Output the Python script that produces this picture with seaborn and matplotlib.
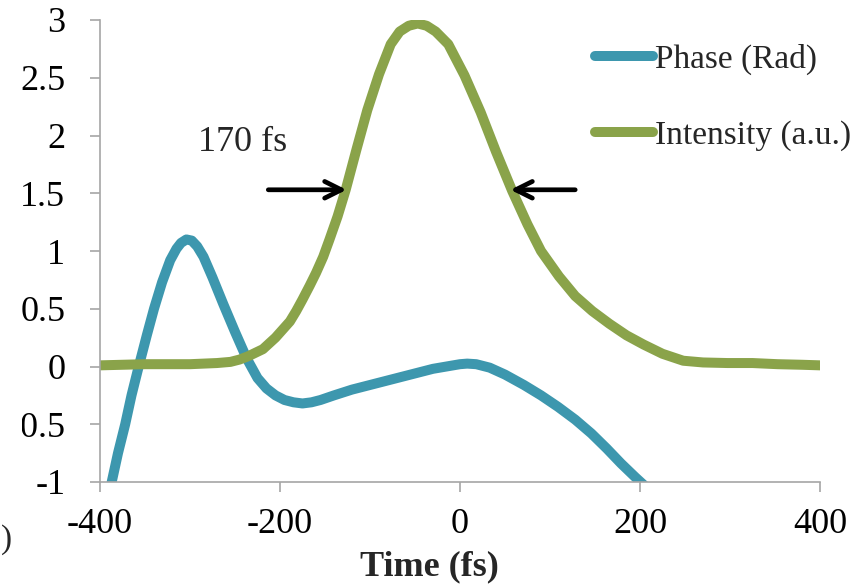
import numpy as np
import pandas as pd
import matplotlib
matplotlib.use("Agg")
import matplotlib.pyplot as plt
import seaborn as sns
from matplotlib.transforms import Bbox, TransformedBbox
from matplotlib.lines import Line2D

# ---- data ----
phase_t = [-390, -387, -380, -372, -365, -357, -348, -340, -331, -322, -315, -310, -304,
           -298, -292, -285, -275, -263, -250, -237, -225, -215, -205, -195, -185, -175,
           -165, -155, -140, -120, -100, -80, -60, -45, -30, -15, 0, 8, 18, 33, 50,
           71, 90, 109, 128, 146, 163, 179, 195, 209, 215]
phase_v = [-1.1, -1.0, -0.75, -0.5, -0.25, 0.0, 0.27, 0.5, 0.73, 0.92, 1.02, 1.07, 1.10,
           1.09, 1.04, 0.95, 0.77, 0.54, 0.30, 0.07, -0.10, -0.19, -0.25, -0.29, -0.31,
           -0.32, -0.31, -0.29, -0.25, -0.20, -0.16, -0.12, -0.08, -0.05, -0.02, 0.0,
           0.02, 0.025, 0.02, -0.01, -0.07, -0.16, -0.25, -0.35, -0.46, -0.58, -0.71,
           -0.84, -0.96, -1.06, -1.1]

int_t = [-400, -350, -300, -270, -255, -245, -235, -227, -219, -212, -205, -197, -189,
         -182, -175, -167, -160, -152, -145, -136, -127, -115, -103, -90, -77, -67, -57,
         -47, -37, -27, -13, 5, 23, 40, 58, 75, 90, 110, 128, 147, 166, 185, 204, 225,
         248, 270, 297, 325, 353, 380, 400]
int_v = [0.01, 0.02, 0.02, 0.03, 0.04, 0.06, 0.09, 0.12, 0.15, 0.20, 0.25, 0.32, 0.39,
         0.48, 0.58, 0.70, 0.81, 0.95, 1.10, 1.30, 1.53, 1.88, 2.22, 2.53, 2.79, 2.90,
         2.95, 2.97, 2.95, 2.90, 2.79, 2.52, 2.20, 1.86, 1.52, 1.23, 1.00, 0.78, 0.61,
         0.48, 0.37, 0.27, 0.19, 0.11, 0.05, 0.035, 0.03, 0.03, 0.02, 0.015, 0.01]

series_names = ["Phase (Rad)", "Intensity (a.u.)"]
series_colors = ["#3D97AE", "#8AA34A"]
x_ticks = [-400, -200, 0, 200, 400]
y_ticks = [-1, -0.5, 0, 0.5, 1, 1.5, 2, 2.5, 3]
y_tick_labels = ["-1", "-0.5", "0", "0.5", "1", "1.5", "2", "2.5", "3"]
fwhm_label = "170 fs"
x_label = "Time (fs)"

df = pd.concat([
    pd.DataFrame({"t": phase_t, "v": phase_v, "series": series_names[0]}),
    pd.DataFrame({"t": int_t, "v": int_v, "series": series_names[1]}),
], ignore_index=True)

sns.set_theme(style="white")
plt.rcParams["font.family"] = ["Liberation Serif", "DejaVu Serif"]

W, H = 867, 586
fig = plt.figure(figsize=(W / 100, H / 100), dpi=100)
ax = fig.add_axes([100 / W, 1 - 482 / H, 720 / W, 462 / H])

sns.lineplot(data=df, x="t", y="v", hue="series", palette=series_colors,
             hue_order=series_names, sort=False, estimator=None, lw=7.2,
             legend=False, ax=ax)
for ln in ax.get_lines():
    ln.set_solid_joinstyle("round")

ax.set_xlim(-400, 400)
ax.set_ylim(-1, 3)
ax.set_xticks(x_ticks)
ax.set_xticklabels([str(v) for v in x_ticks])
ax.set_yticks(y_ticks)
ax.set_yticklabels(y_tick_labels)

for s in ["top", "right"]:
    ax.spines[s].set_visible(False)
for s in ["left", "bottom"]:
    ax.spines[s].set_color("#A6A6A6")
    ax.spines[s].set_linewidth(1.2)

ax.tick_params(axis="both", direction="out", length=7, width=1.2, color="#A6A6A6",
               labelsize=26, labelcolor="black")
ax.tick_params(axis="y", pad=18, left=True)
ax.tick_params(axis="x", pad=12, bottom=True)

ax.set_xlabel(x_label, fontsize=26, fontweight="bold", va="center")
ax.xaxis.set_label_coords(0.457, -0.183)
ax.set_ylabel("")

# clip y tick labels like the reference (left part cut)
clipbox = TransformedBbox(Bbox([[22 / W, 0], [1, 1]]), fig.transFigure)
for lab in ax.get_yticklabels():
    lab.set_clip_box(clipbox)
    lab.set_clip_on(True)

# FWHM annotation
ax.text(-242, 1.94, fwhm_label, fontsize=26, ha="center", va="center")
arrow_kw = dict(arrowstyle="->,head_length=1.0,head_width=0.5", lw=3.4, color="black",
                shrinkA=0, shrinkB=0)
ax.annotate("", xy=(-126, 1.53), xytext=(-213, 1.53), arrowprops=arrow_kw)
ax.annotate("", xy=(56, 1.53), xytext=(128, 1.53), arrowprops=arrow_kw)

# legend
handles = [Line2D([0], [0], color=c, lw=7.2, solid_capstyle="round") for c in series_colors]
fig.legend(handles, series_names, loc="upper left", bbox_to_anchor=(595 / W, 1 - 44 / H),
           frameon=False, fontsize=24, handlelength=1.75, handletextpad=0.05,
           labelspacing=1.35, borderpad=0, borderaxespad=0)

# small text at bottom-left edge, as in the reference
fig.text(0.5 / W, 1 - 540 / H, ")", fontsize=24, ha="left", va="center")

fig.savefig("out.png", dpi=100)
